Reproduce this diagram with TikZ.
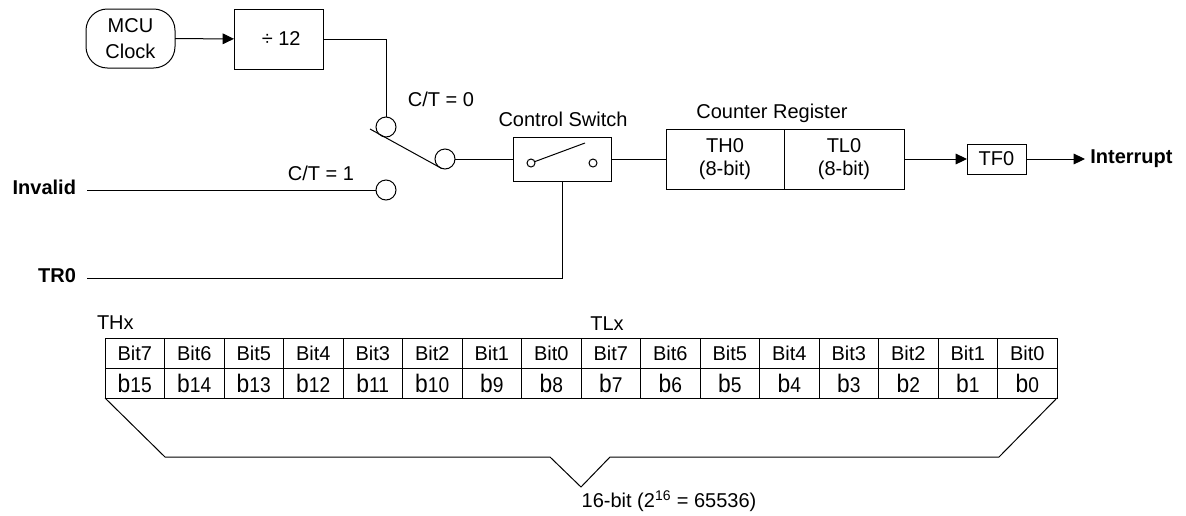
\documentclass[tikz,border=0pt]{standalone}
\usepackage{fontspec}
\setmainfont{Liberation Sans}
\usetikzlibrary{arrows.meta}
\newcommand\bcellx[1]{\scalebox{0.9}[1]{\fontsize{19}{20}\selectfont b\fontsize{16}{18}\selectfont #1}}
\begin{document}
\begin{tikzpicture}[x=0.75pt,y=-0.75pt, line width=0.75pt,
  every node/.style={font=\fontsize{15}{17.25}\selectfont, inner sep=0pt, outer sep=0pt},
  blk/.style={draw, rectangle, align=center},
  contact/.style={draw, circle, minimum size=15pt},
  tiny/.style={draw, circle, minimum size=6pt},
  cellbox/.style={draw, rectangle, minimum width=44.625pt, minimum height=22.5pt},
  lbl/.style={},
  arr/.style={-{Triangle[length=8.5pt,width=8pt]}}]
\useasboundingbox (0,0) rectangle (1186,515);

% clock and divider
\node[blk, rounded corners=16pt, minimum width=66.75pt, minimum height=44.25pt,
      font=\fontsize{15}{19.5}\selectfont] (mcu) at (130.5,38.5) {MCU\\Clock};
\node[blk, minimum width=66.75pt, minimum height=45pt] (div) at (278.5,39) {\hspace{4pt}÷ 12};
\draw[arr] (mcu) -- (div);

% selector contacts
\node[contact] (c0) at (386,127) {};
\node[contact] (cm) at (445,159) {};
\node[contact] (c1) at (386,190) {};
\coordinate (bladeA) at (370,129);
\draw (div.east) -| (c0.north);
\draw (bladeA) -- (cm.250);
\node[lbl] (ct0) at (441,99) {C/T = 0};
\node[lbl] (ct1) at (321,173) {C/T = 1};
\node[anchor=east, font=\fontsize{15}{17}\selectfont\bfseries] (inv) at (76,187) {Invalid};
\coordinate (invs) at (87,190);
\draw (invs) -- (c1.west);

% control switch
\node[blk, minimum width=73.5pt, minimum height=33pt] (sw) at (562,159) {};
\node[lbl] (swl) at (563,119) {Control Switch};
\node[tiny] (sc1) at (531,163) {};
\node[tiny] (sc2) at (593,163) {};
\coordinate (lev) at (585,143);
\draw (sc1.20) -- (lev);
\draw (cm.east) -- (sw.west);

% counter register
\node[blk, minimum width=88.5pt, minimum height=45pt] (th) at (725,159) {TH0\\(8-bit)};
\node[blk, minimum width=90pt, minimum height=45pt] (tl) at (844,159) {TL0\\(8-bit)};
\node[lbl] (crl) at (772,113) {Counter Register};
\draw (sw.east) -- (th.west);

% flag and interrupt
\node[blk, minimum width=44.25pt, minimum height=22.5pt] (tf) at (996.5,159) {TF0};
\draw[arr] (tl.east) -- (tf.west);
\node[anchor=west, inner xsep=4pt, font=\fontsize{15}{17}\selectfont\bfseries] (int) at (1085,159) {Interrupt};
\draw[arr] (tf.east) -- (int.west);

% TR0
\node[anchor=east, font=\fontsize{15}{17}\selectfont\bfseries] (tr) at (76,276) {TR0};
\coordinate (trs) at (87,278);
\draw (sw.south) |- (trs);

% bit table
\node[anchor=west] (thx) at (97,323) {THx};
\node (tlx) at (607,324) {TLx};
\foreach \i in {0,...,15}{
  \pgfmathtruncatemacro\bitn{mod(15-\i,8)}
  \pgfmathtruncatemacro\bn{15-\i}
  \node[cellbox] (t\i) at ({105+59.5*\i+29.75},353) {Bit\bitn};
  \node[cellbox] (b\i) at ({105+59.5*\i+29.75},383) {\bcellx{\bn}};
}

% brace
\coordinate (br1) at (165,457);
\coordinate (br2) at (550,457);
\coordinate (br3) at (581,487);
\coordinate (br4) at (610,457);
\coordinate (br5) at (999,457);
\draw (b0.south west) -- (br1) -- (br2) -- (br3) -- (br4) -- (br5) -- (b15.south east);
\node (bl) at (669,501) {16-bit (2\textsuperscript{16} = 65536)};
\end{tikzpicture}
\end{document}
